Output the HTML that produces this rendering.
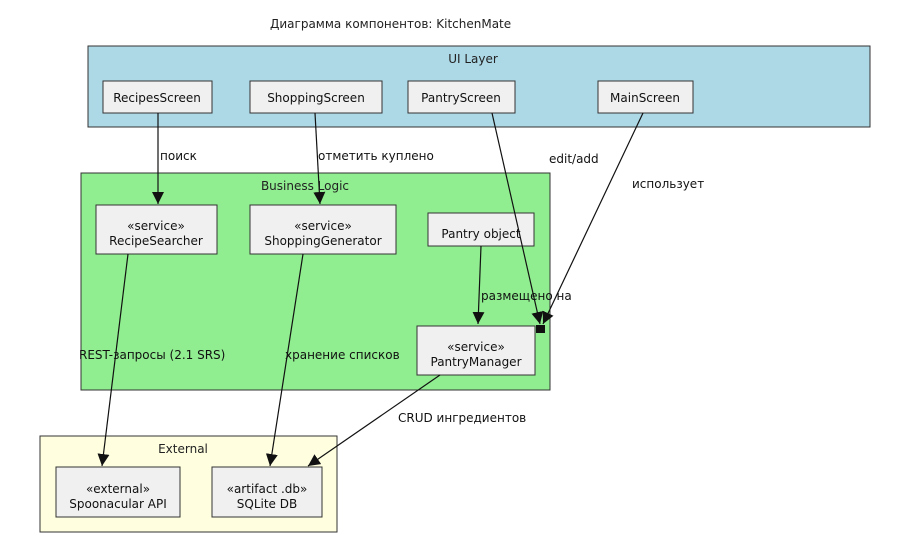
<!DOCTYPE html>
<html><head><meta charset="utf-8"><style>
html,body{margin:0;padding:0;background:#fff;}
svg{display:block;font-family:"DejaVu Sans","Liberation Sans",sans-serif;}
</style></head><body>
<svg width="900" height="548" viewBox="0 0 900 548" xmlns="http://www.w3.org/2000/svg">
<defs><marker id="a" markerWidth="12" markerHeight="14" refX="12" refY="6" orient="auto" markerUnits="userSpaceOnUse"><path d="M0,0 L12,6 L0,12 z" fill="#111"/></marker></defs>
<text x="270" y="28" font-size="12" fill="#222">Диаграмма компонентов: KitchenMate</text>
<rect x="88" y="46" width="782" height="81" fill="#add8e6" stroke="#333"/>
<text x="473" y="63" font-size="12" text-anchor="middle" fill="#222">UI Layer</text>
<rect x="81" y="173" width="469" height="217" fill="#90ee90" stroke="#333"/>
<text x="305" y="190" font-size="12" text-anchor="middle" fill="#222">Business Logic</text>
<rect x="40" y="436" width="297" height="96" fill="#ffffe0" stroke="#333"/>
<text x="183" y="453" font-size="12" text-anchor="middle" fill="#222">External</text>
<g fill="#f0f0f0" stroke="#333">
<rect x="103" y="81" width="109" height="32"/>
<rect x="250" y="81" width="132" height="32"/>
<rect x="408" y="81" width="107" height="32"/>
<rect x="598" y="81" width="95" height="32"/>
<rect x="96" y="205" width="121" height="49"/>
<rect x="250" y="205" width="146" height="49"/>
<rect x="428" y="213" width="106" height="33"/>
<rect x="417" y="326" width="118" height="49"/>
<rect x="56" y="467" width="124" height="50"/>
<rect x="212" y="467" width="110" height="50"/>
</g>
<rect x="536" y="325" width="9" height="8" fill="#111"/>
<g font-size="12" fill="#111" text-anchor="middle">
<text x="157" y="102">RecipesScreen</text>
<text x="316" y="102">ShoppingScreen</text>
<text x="461" y="102">PantryScreen</text>
<text x="645" y="102">MainScreen</text>
<text x="156" y="230">«service»</text><text x="156" y="245">RecipeSearcher</text>
<text x="323" y="230">«service»</text><text x="323" y="245">ShoppingGenerator</text>
<text x="481" y="238">Pantry object</text>
<text x="476" y="351">«service»</text><text x="476" y="366">PantryManager</text>
<text x="118" y="493">«external»</text><text x="118" y="508">Spoonacular API</text>
<text x="267" y="493">«artifact .db»</text><text x="267" y="508">SQLite DB</text>
</g>
<g stroke="#111" stroke-width="1.2" fill="none" marker-end="url(#a)">
<line x1="158" y1="113" x2="158" y2="204"/>
<line x1="315" y1="113" x2="320" y2="204"/>
<line x1="492" y1="113" x2="540" y2="324"/>
<line x1="643" y1="113" x2="543" y2="324"/>
<line x1="481" y1="246" x2="478" y2="324"/>
<line x1="128" y1="254" x2="102" y2="466"/>
<line x1="303" y1="254" x2="270" y2="466"/>
<line x1="440" y1="375" x2="308" y2="466"/>
</g>
<g font-size="12" fill="#111">
<text x="160" y="160">поиск</text>
<text x="318" y="160">отметить куплено</text>
<text x="549" y="163">edit/add</text>
<text x="632" y="188">использует</text>
<text x="481" y="300">размещено на</text>
<text x="79" y="359">REST-запросы (2.1 SRS)</text>
<text x="285" y="359">хранение списков</text>
<text x="398" y="422">CRUD ингредиентов</text>
</g>
</svg>
</body></html>
